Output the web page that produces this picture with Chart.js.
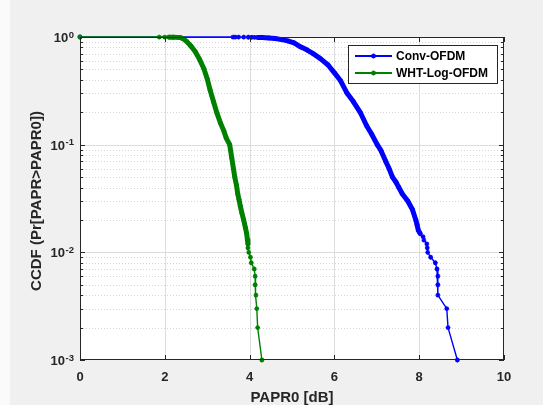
<!DOCTYPE html>
<html>
<head>
<meta charset="utf-8">
<script src="https://cdn.jsdelivr.net/npm/chart.js@4.4.0/dist/chart.umd.min.js"></script>
<style>
  html, body { margin: 0; padding: 0; background: #f0f0f0; }
  canvas { display: block; }
</style>
</head>
<body>
<canvas id="chart" width="543" height="405"></canvas>
<script>
// CCDF curves (x = PAPR0 in dB, y = Pr[PAPR > PAPR0])
const convX = [0, 3.61, 3.66, 3.74, 3.86, 3.97, 4.05, 4.12, 4.2, 4.3, 4.45, 4.6, 4.73, 4.9, 5.05, 5.2, 5.35, 5.5, 5.67, 5.85,
    6.01, 6.15, 6.3, 6.45, 6.62, 6.76, 6.88, 7.01, 7.1, 7.21, 7.29, 7.37, 7.45, 7.52, 7.6, 7.73, 7.84, 7.92, 7.95, 7.98,
    8.02, 8.09, 8.11, 8.18, 8.19, 8.20, 8.27, 8.38, 8.42, 8.44, 8.44, 8.44, 8.65, 8.68, 8.90];
const convY = [1, 0.999, 0.998, 0.997, 0.996, 0.995, 0.994, 0.993, 0.991, 0.988, 0.98, 0.97, 0.95, 0.92, 0.88, 0.81, 0.76, 0.70, 0.63, 0.55,
    0.46, 0.39, 0.30, 0.25, 0.196, 0.15, 0.125, 0.10, 0.088, 0.07, 0.06, 0.05, 0.045, 0.04, 0.035, 0.03, 0.025, 0.02, 0.018, 0.016,
    0.015, 0.014, 0.013, 0.012, 0.011, 0.010, 0.009, 0.008, 0.007, 0.006, 0.005, 0.004, 0.003, 0.002, 0.001];

const whtX = [0, 1.87, 2.0, 2.1, 2.2, 2.3, 2.36, 2.44, 2.52, 2.62, 2.72, 2.82, 2.92, 3.0, 3.07, 3.15, 3.23, 3.31, 3.39, 3.45,
    3.53, 3.58, 3.65, 3.69, 3.72, 3.75, 3.78, 3.82, 3.86, 3.90, 3.93, 3.95, 3.96, 3.96, 3.98, 4.02, 4.04, 4.11, 4.13, 4.13,
    4.15, 4.17, 4.19, 4.29];
const whtY = [1, 0.999, 0.998, 0.997, 0.995, 0.992, 0.99, 0.96, 0.905, 0.82, 0.73, 0.62, 0.51, 0.41, 0.32, 0.25, 0.196, 0.16, 0.135, 0.115,
    0.1, 0.075, 0.05, 0.042, 0.035, 0.031, 0.027, 0.023, 0.02, 0.017, 0.015, 0.013, 0.012, 0.011, 0.010, 0.009, 0.008, 0.007, 0.006, 0.005,
    0.004, 0.003, 0.002, 0.001];

const seriesNames = ['Conv-OFDM', 'WHT-Log-OFDM'];
const seriesColors = ['#0000ff', '#008000'];

// axis ticks
const xTicks = [0, 2, 4, 6, 8, 10];
const yDecades = [0.001, 0.01, 0.1, 1];
const yExponents = ['-3', '-2', '-1', '0'];

// where the markers pile up into a solid band (style only)
const denseBand = [[0.991, 0.015], [0.997, 0.012]];

const toPoints = (xs, ys) => xs.map((x, i) => ({ x: x, y: ys[i] }));

const bandWidth = (ys, k) => (ctx) => {
    const a = ys[ctx.p0DataIndex], b = ys[ctx.p1DataIndex];
    return (a <= denseBand[k][0] && b >= denseBand[k][1]) ? 5 : 1.4;
};

const FONT = '"Liberation Sans", Arial, sans-serif';
const AXIS = '#262626';

function superLabel(ctx, base, exp, right, y) {
    ctx.font = 'bold 9.5px ' + FONT;
    const w2 = ctx.measureText(exp).width;
    ctx.textAlign = 'left';
    ctx.textBaseline = 'alphabetic';
    ctx.fillText(exp, right - w2, y + 0.5);
    ctx.font = 'bold 13px ' + FONT;
    ctx.textAlign = 'right';
    ctx.fillText(base, right - w2 - 0.5, y + 5);
}

const frame = {
    id: 'frame',
    beforeDraw(chart) {
        const { ctx, chartArea: a } = chart;
        const xs = chart.scales.x, ys = chart.scales.y;
        ctx.save();
        ctx.fillStyle = '#f0f0f0';
        ctx.fillRect(0, 0, chart.width, chart.height);
        ctx.fillStyle = '#fafafa';
        ctx.fillRect(0, 0, 10, chart.height);
        ctx.fillStyle = '#ffffff';
        ctx.fillRect(a.left, a.top, a.right - a.left, a.bottom - a.top);

        // minor log grid, dotted
        ctx.lineWidth = 1;
        ctx.strokeStyle = '#d6d6d6';
        ctx.setLineDash([1, 2]);
        for (let i = 0; i < yDecades.length - 1; i++) {
            for (let k = 2; k <= 9; k++) {
                const y = Math.round(ys.getPixelForValue(yDecades[i] * k)) + 0.5;
                ctx.beginPath();
                ctx.moveTo(a.left, y);
                ctx.lineTo(a.right, y);
                ctx.stroke();
            }
        }
        ctx.setLineDash([]);

        // major grid
        ctx.strokeStyle = '#dcdcdc';
        xTicks.slice(1, -1).forEach(v => {
            const x = Math.round(xs.getPixelForValue(v)) + 0.5;
            ctx.beginPath();
            ctx.moveTo(x, a.top);
            ctx.lineTo(x, a.bottom);
            ctx.stroke();
        });
        yDecades.slice(1, -1).forEach(v => {
            const y = Math.round(ys.getPixelForValue(v)) + 0.5;
            ctx.beginPath();
            ctx.moveTo(a.left, y);
            ctx.lineTo(a.right, y);
            ctx.stroke();
        });
        ctx.restore();
    },
    afterDatasetsDraw(chart) {
        const { ctx, chartArea: a } = chart;
        const xs = chart.scales.x, ys = chart.scales.y;
        ctx.save();

        // box
        ctx.strokeStyle = AXIS;
        ctx.lineWidth = 1;
        ctx.strokeRect(a.left + 0.5, a.top + 0.5, a.right - a.left - 1, a.bottom - a.top - 1);

        // tick marks, inward on all four sides
        ctx.beginPath();
        xTicks.forEach(v => {
            const x = Math.round(xs.getPixelForValue(v)) + 0.5;
            ctx.moveTo(x, a.bottom); ctx.lineTo(x, a.bottom - 5);
            ctx.moveTo(x, a.top); ctx.lineTo(x, a.top + 5);
        });
        yDecades.forEach((d, i) => {
            const y = Math.round(ys.getPixelForValue(d)) + 0.5;
            ctx.moveTo(a.left, y); ctx.lineTo(a.left + 5, y);
            ctx.moveTo(a.right, y); ctx.lineTo(a.right - 5, y);
            if (i < yDecades.length - 1) {
                for (let k = 2; k <= 9; k++) {
                    const ym = Math.round(ys.getPixelForValue(d * k)) + 0.5;
                    ctx.moveTo(a.left, ym); ctx.lineTo(a.left + 3, ym);
                    ctx.moveTo(a.right, ym); ctx.lineTo(a.right - 3, ym);
                }
            }
        });
        ctx.stroke();

        // tick labels
        ctx.fillStyle = AXIS;
        ctx.font = 'bold 13px ' + FONT;
        ctx.textAlign = 'center';
        ctx.textBaseline = 'alphabetic';
        xTicks.forEach(v => ctx.fillText(String(v), xs.getPixelForValue(v), 381));
        yDecades.forEach((d, i) => superLabel(ctx, '10', yExponents[i], a.left - 6, ys.getPixelForValue(d)));

        // axis titles
        ctx.font = 'bold 15px ' + FONT;
        ctx.textAlign = 'center';
        ctx.textBaseline = 'middle';
        ctx.fillText('PAPR0 [dB]', (a.left + a.right) / 2, 398);
        ctx.save();
        ctx.translate(37, 201);
        ctx.rotate(-Math.PI / 2);
        ctx.fillText('CCDF (Pr[PAPR>PAPR0])', 0, 0);
        ctx.restore();

        // legend box
        const lx = 348, ly = 45, lw = 149, lh = 38;
        ctx.fillStyle = '#ffffff';
        ctx.fillRect(lx, ly, lw, lh);
        ctx.strokeStyle = AXIS;
        ctx.strokeRect(lx + 0.5, ly + 0.5, lw, lh);
        ctx.font = 'bold 12px ' + FONT;
        ctx.textAlign = 'left';
        ctx.textBaseline = 'middle';
        seriesNames.forEach((name, i) => {
            const y = 56 + i * 17;
            ctx.strokeStyle = seriesColors[i];
            ctx.lineWidth = 2;
            ctx.beginPath();
            ctx.moveTo(355, y);
            ctx.lineTo(392, y);
            ctx.stroke();
            ctx.lineWidth = 1.2;
            ctx.beginPath();
            for (let j = 0; j < 4; j++) {
                const t = j * Math.PI / 4;
                ctx.moveTo(373.5 - 2.5 * Math.cos(t), y - 2.5 * Math.sin(t));
                ctx.lineTo(373.5 + 2.5 * Math.cos(t), y + 2.5 * Math.sin(t));
            }
            ctx.stroke();
            ctx.fillStyle = '#000000';
            ctx.fillText(name, 396, y + 0.5);
        });
        ctx.restore();
    }
};

const makeSet = (k, xs, ys, order) => ({
    label: seriesNames[k],
    data: toPoints(xs, ys),
    borderColor: seriesColors[k],
    backgroundColor: seriesColors[k],
    borderWidth: 1.4,
    borderCapStyle: 'round',
    borderJoinStyle: 'round',
    pointStyle: 'star',
    pointRadius: 2.4,
    pointBorderWidth: 1.3,
    pointBorderColor: seriesColors[k],
    pointBackgroundColor: seriesColors[k],
    showLine: true,
    tension: 0,
    clip: false,
    order: order,
    segment: { borderWidth: bandWidth(ys, k) }
});

new Chart(document.getElementById('chart'), {
    type: 'scatter',
    data: {
        datasets: [
            makeSet(0, convX, convY, 2),
            makeSet(1, whtX, whtY, 1)
        ]
    },
    options: {
        responsive: false,
        animation: false,
        layout: { padding: { left: 0, right: 39, top: 37, bottom: 0 } },
        plugins: { legend: { display: false }, tooltip: { enabled: false } },
        scales: {
            x: {
                type: 'linear', min: 0, max: 10,
                grid: { display: false }, border: { display: false },
                ticks: { display: false },
                afterFit: s => { s.height = 45; }
            },
            y: {
                type: 'logarithmic', min: 0.001, max: 1,
                grid: { display: false }, border: { display: false },
                ticks: { display: false },
                afterFit: s => { s.width = 80; }
            }
        }
    },
    plugins: [frame]
});
</script>
</body>
</html>
